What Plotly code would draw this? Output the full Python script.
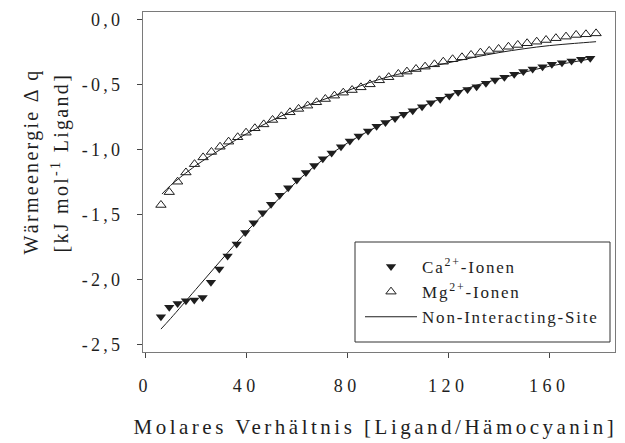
import plotly.graph_objects as go

# ---- data ----
ca_x = [6.2, 9.5, 12.8, 16.1, 19.4, 22.7, 26.0, 29.3, 32.6, 36.2, 39.6, 42.9, 46.5, 49.8,
        53.2, 56.6, 60.0, 63.6, 66.9, 70.3, 73.8, 77.5, 81.0, 84.5, 88.2, 91.6, 95.1, 98.9,
        102.3, 105.9, 109.6, 113.1, 116.8, 120.4, 123.9, 127.6, 131.2, 134.9, 138.5, 142.2,
        146.1, 149.7, 153.4, 157.3, 161.0, 165.0, 168.8, 172.6, 176.2]
ca_y = [-2.282, -2.210, -2.180, -2.159, -2.154, -2.134, -2.018, -1.916, -1.816, -1.723,
        -1.635, -1.559, -1.482, -1.418, -1.349, -1.290, -1.231, -1.174, -1.120, -1.068,
        -1.024, -0.975, -0.931, -0.892, -0.853, -0.818, -0.788, -0.757, -0.726, -0.698,
        -0.667, -0.636, -0.610, -0.585, -0.556, -0.534, -0.513, -0.487, -0.461, -0.441,
        -0.418, -0.397, -0.377, -0.359, -0.341, -0.329, -0.316, -0.302, -0.295]

mg_x = [6.2, 9.5, 12.8, 16.1, 19.5, 22.9, 26.2, 29.6, 33.0, 36.6, 39.9, 43.4, 46.9, 50.4,
        53.9, 57.3, 60.7, 64.3, 67.8, 71.3, 74.9, 78.4, 81.9, 85.4, 89.0, 92.7, 96.4, 100.2,
        103.6, 107.2, 110.8, 114.5, 118.0, 121.7, 125.4, 129.0, 132.7, 136.2, 139.9, 143.8,
        147.5, 151.2, 155.0, 158.7, 162.6, 166.6, 170.6, 174.5, 178.5]
mg_y = [-1.423, -1.324, -1.244, -1.173, -1.109, -1.057, -1.015, -0.975, -0.936, -0.902,
        -0.867, -0.833, -0.803, -0.769, -0.741, -0.710, -0.684, -0.659, -0.633, -0.608,
        -0.582, -0.559, -0.539, -0.518, -0.495, -0.464, -0.440, -0.415, -0.397, -0.377,
        -0.359, -0.341, -0.321, -0.302, -0.287, -0.269, -0.251, -0.238, -0.223, -0.206,
        -0.192, -0.179, -0.167, -0.154, -0.140, -0.128, -0.115, -0.110, -0.103]

ca_fit_x = [6.2, 10, 20, 30, 40, 50, 60, 70, 80, 90, 100, 110, 120, 130, 140, 150, 160, 170, 176.2]
ca_fit_y = [-2.378, -2.297, -2.073, -1.848, -1.630, -1.431, -1.242, -1.080, -0.947, -0.838,
            -0.743, -0.662, -0.580, -0.509, -0.453, -0.402, -0.356, -0.321, -0.300]

mg_fit_x = [6.6, 10, 20, 30, 40, 50, 60, 70, 80, 90, 100, 110, 120, 130, 140, 150, 160, 170, 178.5]
mg_fit_y = [-1.339, -1.273, -1.120, -0.993, -0.876, -0.774, -0.687, -0.616, -0.545, -0.473,
            -0.418, -0.372, -0.329, -0.288, -0.251, -0.221, -0.197, -0.180, -0.167]

x_tick_vals = [0, 40, 80, 120, 160]
x_tick_text = ["0", "40", "80", "120", "160"]
y_tick_vals = [0.0, -0.5, -1.0, -1.5, -2.0, -2.5]
y_tick_text = ["0,0", "-0,5", "-1,0", "-1,5", "-2,0", "-2,5"]

name_ca = "Ca<sup>2+</sup>-Ionen"
name_mg = "Mg<sup>2+</sup>-Ionen"
name_fit = "Non-Interacting-Site"
x_title = "Molares Verhältnis [Ligand/Hämocyanin]"
y_title_1 = "Wärmeenergie Δ q"
y_title_2 = "[kJ mol<sup>-1</sup> Ligand]"

FONT = "'Times New Roman', 'Liberation Serif', Tinos, 'DejaVu Serif', serif"
INK = "#1e1e1e"
AX = "#7a7a7a"

W, H = 625, 443
ML, MR, MT, MB = 143, 10, 12, 91
PW, PH = W - ML - MR, H - MT - MB


def px_to_paper_x(px):
    return (px - ML) / PW


def px_to_paper_y(py):
    return (H - MB - py) / PH


fig = go.Figure()
fig.add_trace(go.Scatter(x=ca_x, y=ca_y, mode="markers", name=name_ca, legendgroup="a",
                         marker=dict(symbol="triangle-down", size=9, color=INK, line=dict(width=0))))
fig.add_trace(go.Scatter(x=mg_x, y=mg_y, mode="markers", name=name_mg, legendgroup="b",
                         marker=dict(symbol="triangle-up-open", size=9, color=INK, line=dict(width=1))))
fig.add_trace(go.Scatter(x=ca_fit_x, y=ca_fit_y, mode="lines", name=name_fit, legendgroup="c",
                         line=dict(color=INK, width=1, shape="spline")))
fig.add_trace(go.Scatter(x=mg_fit_x, y=mg_fit_y, mode="lines", name=name_fit, legendgroup="c",
                         showlegend=False, line=dict(color=INK, width=1, shape="spline")))

fig.update_layout(
    width=W, height=H,
    margin=dict(l=ML, r=MR, t=MT, b=MB, pad=0),
    paper_bgcolor="white", plot_bgcolor="white",
    font=dict(family=FONT, color=INK, size=17),
    showlegend=True,
    legend=dict(x=px_to_paper_x(360), y=px_to_paper_y(249), xanchor="left", yanchor="top",
                bgcolor="rgba(0,0,0,0)", borderwidth=0, itemwidth=52,
                font=dict(family=FONT, size=17, color=INK), tracegroupgap=1,
                traceorder="normal"),
    xaxis=dict(range=[-0.9, 186.0], tickvals=x_tick_vals, ticktext=x_tick_text,
               showgrid=False, zeroline=False, showline=True, linecolor=AX, linewidth=1,
               mirror=True, ticks="outside", ticklen=5, tickcolor="#444", tickwidth=1,
               tickfont=dict(family=FONT, size=18, color=INK), ticklabelstandoff=12),
    yaxis=dict(range=[-2.554, 0.0615], tickvals=y_tick_vals, ticktext=y_tick_text,
               showgrid=False, zeroline=False, showline=True, linecolor=AX, linewidth=1,
               mirror=True, ticks="outside", ticklen=5, tickcolor="#444", tickwidth=1,
               tickfont=dict(family=FONT, size=18, color=INK), ticklabelstandoff=10),
    shapes=[dict(type="rect", xref="paper", yref="paper",
                 x0=px_to_paper_x(355), x1=px_to_paper_x(610),
                 y0=px_to_paper_y(342), y1=px_to_paper_y(242),
                 line=dict(color="#333", width=1), fillcolor="white", layer="below")],
    annotations=[
        dict(text=x_title, xref="paper", yref="paper", x=px_to_paper_x(375), y=px_to_paper_y(427),
             xanchor="center", yanchor="middle", showarrow=False, font=dict(family=FONT, size=21, color=INK)),
        dict(text=y_title_1, xref="paper", yref="paper", x=px_to_paper_x(31), y=px_to_paper_y(162),
             xanchor="center", yanchor="middle", showarrow=False, textangle=-90,
             font=dict(family=FONT, size=20, color=INK)),
        dict(text=y_title_2, xref="paper", yref="paper", x=px_to_paper_x(60), y=px_to_paper_y(163),
             xanchor="center", yanchor="middle", showarrow=False, textangle=-90,
             font=dict(family=FONT, size=20, color=INK)),
    ],
)

css = (".xtick text{letter-spacing:4.5px}"
       ".ytick text{letter-spacing:3.3px}"
       ".annotation[data-index='0'] text{letter-spacing:3.5px}"
       ".annotation[data-index='1'] text,.annotation[data-index='2'] text{letter-spacing:2.3px}"
       ".legendtext{letter-spacing:1.8px}")
post = ("var s=document.createElement('style');s.textContent=\"" + css + "\";"
        "document.head.appendChild(s);"
        "document.querySelectorAll('.legend [clip-path]').forEach(function(e){e.removeAttribute('clip-path');});")

fig.write_html("out.html", post_script=post)
